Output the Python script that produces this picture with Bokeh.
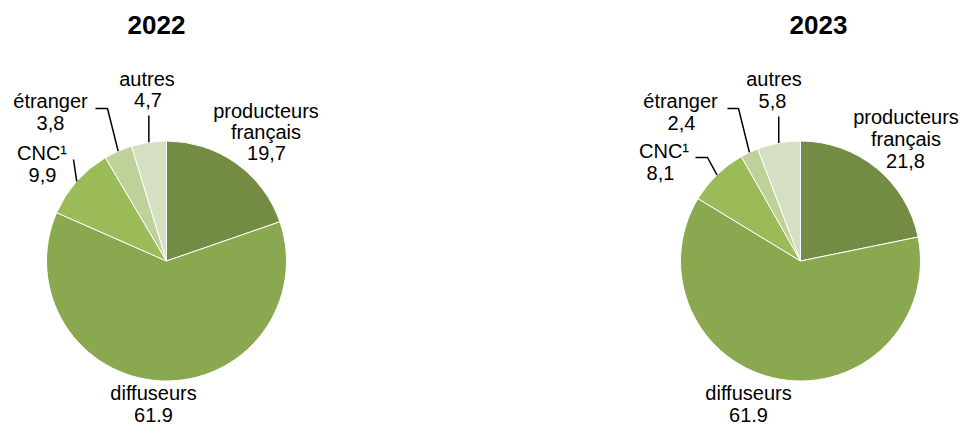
import math
from bokeh.plotting import figure
from bokeh.models import Range1d, ColumnDataSource
from bokeh.core.properties import value
from bokeh.embed import file_html
from bokeh.resources import INLINE

# ---- data ----
categories = ["producteurs français", "diffuseurs", "CNC¹", "étranger", "autres"]
years = ["2022", "2023"]
values_2022 = [19.7, 61.9, 9.9, 3.8, 4.7]
values_2023 = [21.8, 61.9, 8.1, 2.4, 5.8]
value_labels_2022 = ["19,7", "61.9", "9,9", "3,8", "4,7"]
value_labels_2023 = ["21,8", "61.9", "8,1", "2,4", "5,8"]
name_lines = [["producteurs", "français"], ["diffuseurs"], ["CNC¹"], ["étranger"], ["autres"]]
colors = ["#738B42", "#8AA850", "#9BBB59", "#BED198", "#D5E0C2"]

# ---- layout (page pixel coordinates) ----
W, H = 960, 425
def X(px):
    return px
def Y(py):
    return H - py

FONT = "Liberation Sans"
LABEL_SIZE = "20px"
TITLE_SIZE = "26px"

layouts = {
    "2022": dict(
        center=(166, 260.5), radius=120, title=(156, 24),
        labels=[  # (x_name, y_first_line, x_value, y_value)
            (265.5, 110, 266, 152),
            (153, 392, 153, 414),
            (41.5, 152, 42, 174),
            (50, 100, 50, 122),
            (146.5, 78, 147.5, 99),
        ],
        leaders={2: [(73, 159)], 3: [(107, 108), (95, 108)], 4: [(None, 115)]},
    ),
    "2023": dict(
        center=(800, 260.5), radius=120, title=(818, 24),
        labels=[
            (905.5, 116, 905, 160),
            (748, 392, 748, 414),
            (663.5, 150, 660, 172),
            (680, 100, 681, 122),
            (773.5, 78, 772, 100),
        ],
        leaders={2: [(707, 157), (695, 157)], 3: [(738, 108), (727, 108)], 4: [(None, 116)]},
    ),
}

p = figure(width=W, height=H, output_backend="svg", toolbar_location=None,
           x_range=Range1d(0, W), y_range=Range1d(0, H), min_border=0)
p.axis.visible = False
p.grid.visible = False
p.outline_line_color = None
p.background_fill_color = "white"
p.border_fill_color = "white"

series = {"2022": (values_2022, value_labels_2022), "2023": (values_2023, value_labels_2023)}

for yr in years:
    vals, vlabels = series[yr]
    lay = layouts[yr]
    cx, cy = lay["center"]
    r = lay["radius"]
    total = sum(vals)
    starts, ends, mids = [], [], []
    acc = 0.0
    for v in vals:
        a0 = math.pi / 2 - 2 * math.pi * acc / total
        acc += v
        a1 = math.pi / 2 - 2 * math.pi * acc / total
        starts.append(a0)
        ends.append(a1)
        mids.append((a0 + a1) / 2)
    src = ColumnDataSource(dict(x=[X(cx)] * len(vals), y=[Y(cy)] * len(vals),
                                start=starts, end=ends, color=colors, cat=categories))
    p.wedge(x="x", y="y", radius=r, start_angle="start", end_angle="end",
            direction="clock", fill_color="color", line_color="white", line_width=1,
            source=src)

    # title
    p.text(x=[X(lay["title"][0])], y=[Y(lay["title"][1])], text=[yr],
           text_font=value(FONT), text_font_size=TITLE_SIZE, text_font_style="bold",
           text_align="center", text_baseline="middle", text_color="black")

    # labels
    for i, (xn, yn, xv, yv) in enumerate(lay["labels"]):
        lines = name_lines[i]
        step = (yv - yn) / len(lines)
        for k, ln in enumerate(lines):
            p.text(x=[X(xn)], y=[Y(yn + k * step)], text=[ln],
                   text_font=value(FONT), text_font_size=LABEL_SIZE,
                   text_align="center", text_baseline="middle", text_color="black")
        p.text(x=[X(xv)], y=[Y(yv)], text=[vlabels[i]],
               text_font=value(FONT), text_font_size=LABEL_SIZE,
               text_align="center", text_baseline="middle", text_color="black")

    # leader lines from slice mid-point on the rim
    for i, pts in lay["leaders"].items():
        ex = X(cx) + r * math.cos(mids[i])
        ey = Y(cy) + r * math.sin(mids[i])
        xs, ys = [ex], [ey]
        for (px, py) in pts:
            xs.append(ex if px is None else X(px))
            ys.append(Y(py))
        p.line(xs, ys, line_color="black", line_width=1.5)

open("out.html", "w").write(file_html(p, INLINE))
